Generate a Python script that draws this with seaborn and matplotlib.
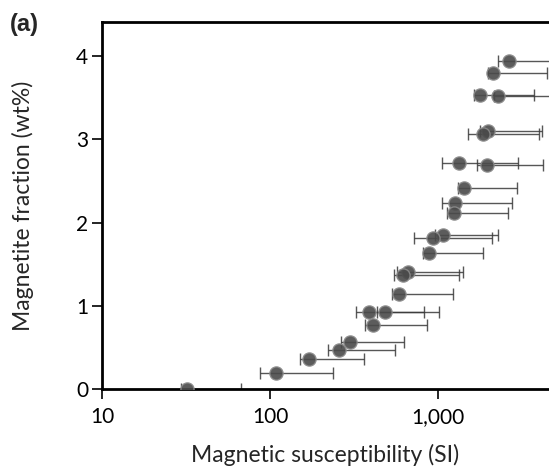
import seaborn as sns
import matplotlib.pyplot as plt
import matplotlib.ticker as mticker
import pandas as pd
import numpy as np

# values
magnetite = [3.94, 3.80, 3.53, 3.52, 3.10, 3.06, 2.72, 2.69, 2.41, 2.24, 2.11,
             1.85, 1.82, 1.63, 1.40, 1.37, 1.14, 0.92, 0.92, 0.77, 0.56, 0.47,
             0.36, 0.19, 0.0]
susc = [2655, 2133, 1778, 2275, 1991, 1862, 1339, 1964, 1423, 1262, 1245,
        1076, 929, 884, 661, 621, 588, 388, 486, 408, 299, 258,
        171, 108, 31.9]
susc_low = [2285, 1991, 1637, 2161, 1778, 1503, 1062, 1699, 1322, 1057, 1132,
            960, 722, 811, 573, 550, 532, 325, 435, 369, 263, 220,
            151, 87.6, 29.4]
susc_high = [6000, 4436, 3750, 6000, 4180, 3993, 3006, 4200, 2965, 2767, 2611,
             2265, 2096, 1854, 1410, 1328, 1228, 828, 1018, 857, 630, 555,
             364, 237, 67.1]

df = pd.DataFrame({"susc": susc, "frac": magnetite,
                   "lo": susc_low, "hi": susc_high})

sns.set_style("ticks")
plt.rcParams["font.family"] = ["Lato", "DejaVu Sans"]

fig = plt.figure(figsize=(5.49, 4.71), dpi=100)
ax = fig.add_axes([0.1858, 0.1741, 0.8142, 0.7792])

xerr = np.array([df.susc - df.lo, df.hi - df.susc])
ax.errorbar(df.susc, df.frac, xerr=xerr, fmt="none", ecolor="#3a3a3a",
            elinewidth=1.0, capsize=4, capthick=1.0, alpha=0.85, zorder=2)
sns.scatterplot(data=df, x="susc", y="frac", ax=ax, s=90, color="#4a4a4a",
                edgecolor="#8a8a8a", linewidth=1.0, alpha=0.9, zorder=3)

ax.set_xscale("log")
ax.set_xlim(10, 4580)
ax.set_ylim(0, 4.41)
ax.set_yticks([0, 1, 2, 3, 4])
ax.xaxis.set_major_locator(mticker.FixedLocator([10, 100, 1000]))
ax.xaxis.set_minor_locator(mticker.NullLocator())
ax.xaxis.set_major_formatter(mticker.FuncFormatter(lambda v, p: f"{v:,.0f}"))

for side in ["left", "bottom", "top"]:
    ax.spines[side].set_linewidth(2)
    ax.spines[side].set_color("black")
ax.spines["right"].set_visible(False)
ax.tick_params(axis="both", labelsize=15, length=7, width=1.2, colors="black",
               pad=3)
ax.tick_params(axis="x", pad=6)

ax.set_xlabel("Magnetic susceptibility (SI)", fontsize=16.5, labelpad=12)
ax.set_ylabel("Magnetite fraction (wt%)", fontsize=16.5, labelpad=30)
fig.text(0.018, 0.934, "(a)", fontsize=17, fontweight="bold",
         family=["Liberation Sans", "DejaVu Sans"])

fig.savefig("out.png", dpi=100)
